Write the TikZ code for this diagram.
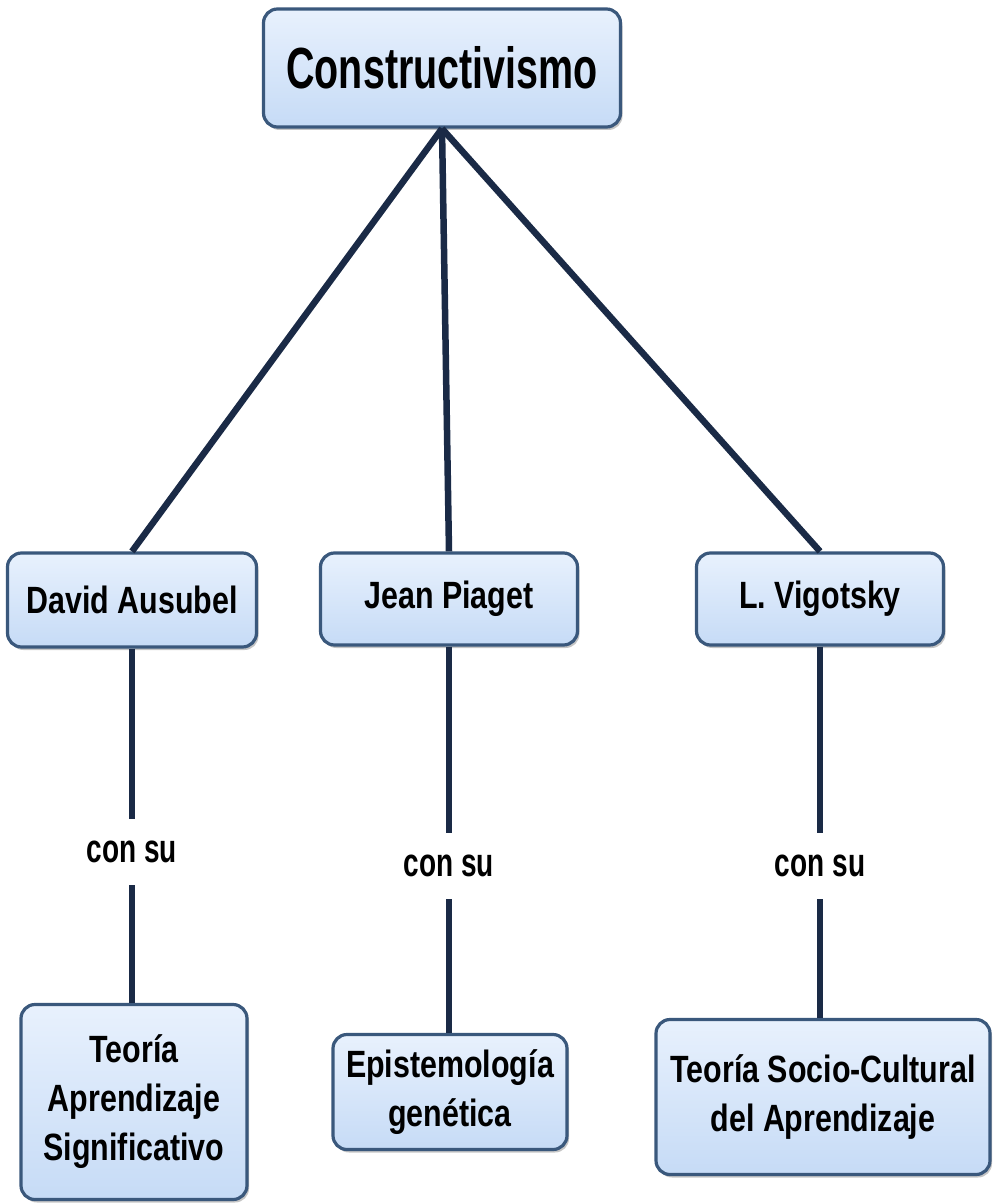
\documentclass[tikz,border=0pt]{standalone}
\usepackage{fontspec}
\setmainfont{Liberation Sans}[FakeStretch=0.8]
\newfontfamily\headfont{Liberation Sans}[FakeStretch=0.68]
\newfontfamily\linkfont{Liberation Sans}[FakeStretch=0.7]
\usetikzlibrary{shadows}
\definecolor{boxtop}{RGB}{232,241,253}
\definecolor{boxbot}{RGB}{198,219,246}
\definecolor{boxedge}{RGB}{58,88,124}
\definecolor{linkcol}{RGB}{26,42,70}
\begin{document}
\begin{tikzpicture}[x=1pt, y=-1pt,
		concept/.style={draw=boxedge, line width=3.2pt, rounded corners=14pt, top color=boxtop, bottom color=boxbot,
			drop shadow={shadow xshift=2pt, shadow yshift=-3pt, fill=black!45}, align=center, inner sep=0pt,
			font=\bfseries\fontsize{38}{49}\selectfont},
		link/.style={draw=linkcol, line width=6.5pt},
		linktext/.style={fill=white, inner xsep=3pt, inner ysep=22pt, font=\linkfont\bfseries\fontsize{40}{44}\selectfont}]
	\useasboundingbox (0,0) rectangle (995,1204);
	% top concept
	\node[concept, minimum width=357pt, minimum height=118pt, font=\headfont\bfseries\fontsize{58}{60}\selectfont] (cons) at (442,68) {Constructivismo};
	% the three authors
	\node[concept, minimum width=249pt, minimum height=94pt] (aus) at (132,600) {David Ausubel};
	\node[concept, minimum width=257pt, minimum height=92pt] (pia) at (449,599) {Jean Piaget};
	\node[concept, minimum width=247pt, minimum height=92pt] (vig) at (820,599) {L. Vigotsky};
	% and their theories
	\node[concept, minimum width=226pt, minimum height=195pt] (tas) at (134,1102) {Teoría\\Aprendizaje\\Significativo};
	\node[concept, minimum width=234pt, minimum height=115pt] (epi) at (450,1092) {Epistemología\\genética};
	\node[concept, minimum width=334pt, minimum height=155pt] (tsc) at (823,1097) {Teoría Socio-Cultural\\del Aprendizaje};

	\draw[link] (cons.south) -- (aus.north);
	\draw[link] (cons.south) -- (pia.north);
	\draw[link] (cons.south) -- (vig.north);
	\draw[link] (aus.south) -- node[linktext, pos=0.575] (su1) {con su} (aus.south |- tas.north);
	\draw[link] (pia.south) -- node[linktext, pos=0.567] (su2) {con su} (pia.south |- epi.north);
	\draw[link] (vig.south) -- node[linktext, pos=0.59] (su3) {con su} (vig.south |- tsc.north);
\end{tikzpicture}
\end{document}
